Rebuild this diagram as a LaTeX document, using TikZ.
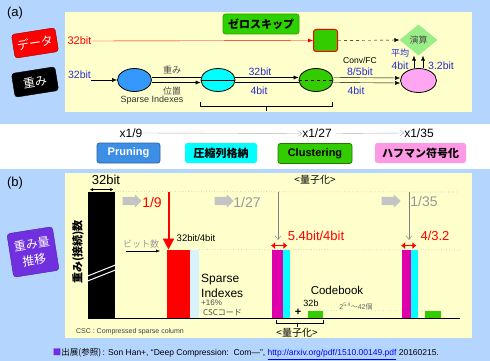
\documentclass[tikz,border=0pt]{standalone}
\usepackage{fontspec}
\setmainfont{Liberation Sans}
\newfontfamily\jp{Noto Sans CJK JP}
\usetikzlibrary{shapes.geometric,shapes.arrows,arrows.meta,calc}
\definecolor{bgblue}{HTML}{B4D6FE}
\definecolor{pane}{HTML}{FFFFCC}
\definecolor{txtblue}{HTML}{2B2BD0}
\definecolor{btnblue}{HTML}{3D8FE6}
\definecolor{btngreen}{HTML}{33CC00}
\definecolor{btnpink}{HTML}{FF99E6}
\definecolor{btncyan}{HTML}{00FFFF}
\definecolor{elblue}{HTML}{3399FF}
\definecolor{elpink}{HTML}{FFA6F2}
\definecolor{dmgreen}{HTML}{99EE88}
\definecolor{magbar}{HTML}{DD00AA}
\definecolor{purp}{HTML}{7030E0}
\definecolor{grtxt}{HTML}{999999}
\definecolor{blkgray}{HTML}{C4C4C4}
\newcommand{\fs}[1]{\fontsize{#1}{#1}\selectfont}
\begin{document}
\begin{tikzpicture}[x=1pt,y=-1pt,
  lbl/.style={inner sep=0pt},
  bt/.style={lbl,text=txtblue,font=\fs{10.5}},
  ell/.style={ellipse,draw=black,line width=0.8pt,minimum width=34pt,minimum height=23pt,inner sep=0pt},
  arr/.style={-{Latex[length=5pt,width=4pt]}},
  garr/.style={draw=gray!60,-{Straight Barb[length=4pt,width=6pt]}},
  btn/.style={rounded corners=2.5pt,minimum height=20pt,inner sep=0pt,font=\fs{11}\bfseries,line width=0.8pt},
  tilt/.style={rounded corners=3pt,rotate=9,inner sep=0pt,text=white,font=\jp\fs{12}},
  bar/.style={anchor=south west,inner sep=0pt,minimum height=68pt},
  blk/.style={single arrow,fill=blkgray,minimum height=19pt,minimum width=13pt,single arrow head extend=2.5pt,inner xsep=0pt,inner ysep=4pt},
  dotl/.style={draw=gray!55,dotted,line width=0.6pt}
]
\useasboundingbox (0,0) rectangle (490,361);
\fill[bgblue] (0,0) rectangle (490,361);
\fill[white] (0,124) rectangle (490,169);
\fill[pane] (65,12) rectangle (472,112);
\fill[pane] (65,173) rectangle (472,338);

% ---------- (a) ----------
\node[lbl,font=\fs{13}] (la) at (15,13) {(a)};
\node[tilt,fill=red,draw=red!60!black,minimum width=44pt,minimum height=24pt] (bdata) at (35,43) {データ};
\node[tilt,fill=black,draw=black,minimum width=44pt,minimum height=24pt] (bw) at (35,82) {重み};

\node[btn,fill=btngreen!90!green,draw=btngreen!80!black,minimum width=76pt,font=\jp\fs{11}\bfseries] (zs) at (261,24) {ゼロスキップ};
\node[lbl,text=red,font=\fs{11}] (d32) at (79.5,41) {32bit};
\node[draw=red,line width=1pt,fill=btngreen,rounded corners=2.5pt,minimum width=24pt,minimum height=22pt,inner sep=0pt] (gsq) at (325.5,40.5) {};
\node[diamond,fill=dmgreen,minimum width=38pt,minimum height=31pt,inner sep=0pt,font=\jp\fs{9},text=black!70] (dm) at (418.5,40) {演算};
\draw[red,arr] (d32.east) -- (gsq.west);
\draw[dashed,arr] (gsq.east) -- (dm.west);

\node[bt] (w32) at (79.5,75) {32bit};
\node[ell,fill=elblue] (be) at (134.5,80) {};
\node[ell,fill=btncyan] (ce) at (218,80) {};
\node[ell,fill=btngreen] (ge) at (316,80) {};
\node[ell,fill=elpink,minimum width=36pt,minimum height=24pt] (pe) at (418.5,80.5) {};
\draw (ce.west) -- (ce.east);
\draw[dashed] (ge.west) -- (ge.east);
\draw[arr] (w32.south east |- be.west) -- (be.west);
\draw ([yshift=2.5pt]be.east) -- ([yshift=2.5pt]ce.west);
\draw[arr] ([yshift=-2.5pt]be.east) -- ([yshift=-2.5pt]ce.west);
\draw[arr] ([yshift=2.5pt]ce.east) -- ([yshift=2.5pt]ge.west);
\draw ([yshift=-2.5pt]ce.east) -- ([yshift=-2.5pt]ge.west);
\draw[arr] ([yshift=2.5pt]ge.east) -- ([yshift=2.5pt]pe.west);
\draw[arr] ([yshift=-2.5pt]ge.east) -- ([yshift=-2.5pt]pe.west);
\draw[arr] ([xshift=-4.5pt]pe.north) -- ([xshift=-4.5pt]dm.south);
\draw[arr] ([xshift=4.5pt]pe.north) -- ([xshift=4.5pt]dm.south);

\node[lbl,font=\jp\fs{9},text=black!70] (lw) at (172,70) {重み};
\node[lbl,font=\jp\fs{9},text=black!70] (lp) at (172,91) {位置};
\node[lbl,font=\fs{9},text=black!80] (lsi) at (152,100) {Sparse Indexes};
\node[bt] (l32b) at (260,72) {32bit};
\node[bt] (l4b) at (259,91) {4bit};
\node[lbl,font=\fs{8.5}] (lcf) at (360,60) {Conv/FC};
\node[bt] (l85) at (360,72) {8/5bit};
\node[bt] (l4c) at (356,91) {4bit};
\node[lbl,font=\jp\fs{9},text=txtblue] (lav) at (400,53) {平均};
\node[bt] (l4d) at (400,66) {4bit};
\node[bt] (l32c) at (441,66) {3.2bit};
\draw (200,102) -- (200,106.5) -- (332,106.5) -- (332,102);
\draw (266,106.5) -- (266,111);

% ---------- middle band ----------
\node[lbl,font=\fs{12}] (x19) at (131,133) {x1/9};
\node[lbl,font=\fs{12}] (x127) at (317,133.5) {x1/27};
\node[lbl,font=\fs{12}] (x135) at (419,133) {x1/35};
\draw[garr] (x19.east) -- (x127.west);
\draw[garr] ([xshift=4pt]x127.east) -- (x135.west);
\node[btn,fill=btnblue,draw=btnblue!70!black,text=white,minimum width=63pt] (bpr) at (128.5,153) {Pruning};
\node[btn,fill=btncyan,draw=none,minimum width=72pt,font=\jp\fs{11}\bfseries] (bcs) at (221,153) {圧縮列格納};
\node[btn,fill=btngreen,draw=btngreen!60!black,minimum width=74pt] (bcl) at (315,153.5) {Clustering};
\node[btn,fill=btnpink,draw=none,minimum width=91pt,font=\jp\fs{11}\bfseries] (bhf) at (420.5,153) {ハフマン符号化};

% ---------- (b) ----------
\node[lbl,font=\fs{13}] (lb) at (15,183) {(b)};
\node[tilt,fill=purp,draw=purp!70!black,minimum width=46pt,minimum height=44pt,align=center,font=\jp\fontsize{12}{16}\selectfont\itshape] (bpu) at (33,252) {重み量\\推移};
\node[lbl,rotate=90,font=\jp\fs{11}\bfseries] (vl) at (78,252) {重み(接続)数};

\node[bar,fill=black,minimum width=27pt,minimum height=126pt] (kb) at (88,318) {};
\draw[white,line width=1pt] (85,277) -- (118,264);
\draw[white,line width=1pt] (85,282) -- (118,269);
\node[lbl,font=\fs{13}] (l32) at (106,180) {32bit};
\draw[{Latex[length=3pt,width=3pt]}-{Latex[length=3pt,width=3pt]}] ([xshift=2pt,yshift=2pt]kb.north west) -- ([xshift=-2pt,yshift=2pt]kb.north east);
\draw[dotl] (kb.north east) -- (457,192);

\node[blk] (a1) at (130,201) {};
\node[blk] (a2) at (222,201) {};
\node[blk] (a3) at (389,201) {};
\node[lbl,text=red,font=\fs{14}] (r19) at (152,202) {1/9};
\node[lbl,text=grtxt,font=\fs{14}] (r127) at (247,202) {1/27};
\node[lbl,text=grtxt,font=\fs{14}] (r135) at (424,201) {1/35};

\node[bar,fill=red,minimum width=23pt] (rb) at (167,318) {};
\node[bar,fill=cyan!15,minimum width=9pt] (lcb) at (190,318) {};
\coordinate (rtop) at (168.5,192);
\draw[red,line width=2pt,-{Triangle[length=11pt,width=11pt]}] (rtop) -- ([xshift=1.5pt]rb.north west);
\draw[dotl] (lcb.north east) -- (460,250);
\node[lbl,font=\fs{9.5}] (l324) at (196,238) {32bit/4bit};
\node[lbl,font=\jp\fs{9},text=grtxt] (lbn) at (141,244) {ビット数};
\coordinate (bna) at (126,251);
\coordinate (bnb) at (160,251);
\draw[-{Latex[length=4pt,width=3pt]}] (bna) -- (bnb);
\node[lbl,font=\fs{12},anchor=west] (lsp) at (201,280) {Sparse};
\node[lbl,font=\fs{12},anchor=west] (lix) at (201,293) {Indexes};
\node[lbl,font=\fs{8},text=black!70,anchor=west] (l16) at (201,303) {+16\%};
\node[lbl,font=\jp\fs{8},text=black!70,anchor=west] (lcsc) at (203,313) {CSCコード};
\node[lbl,font=\fs{7},text=black!75] (lcscf) at (130,332) {CSC : Compressed sparse column};

\node[lbl,font=\jp\fs{10}] (lq1) at (315,180) {<量子化>};
\node[bar,fill=magbar,minimum width=11pt] (mb1) at (272,318) {};
\node[bar,fill=btncyan,minimum width=7pt] (cb1) at (283,318) {};
\coordinate (v1t) at (278,192);
\coordinate (v1b) at (278,240);
\draw[gray,-{Straight Barb[length=4pt,width=6pt]}] (v1t) -- (v1b);
\draw[red,line width=1.5pt,{Latex[length=4pt,width=7pt]}-{Latex[length=4pt,width=7pt]}] ([xshift=-1pt,yshift=4pt]mb1.north west) -- ([xshift=-3pt,yshift=4pt]cb1.north east);
\node[lbl,text=red,font=\fs{13}] (l54) at (316,236) {5.4bit/4bit};
\node[lbl,font=\fs{11.5}] (lcb) at (337,290) {Codebook};
\node[lbl,font=\fs{11}\bfseries] (lplus) at (298,312) {+};
\node[lbl,font=\fs{9}] (l32b2) at (311,303) {32b};
\node[bar,fill=btngreen,minimum width=15pt,minimum height=7pt] (gb1) at (308,318) {};
\draw[dotl] (gb1.north east) -- (425,311);
\node[lbl,font=\fs{7},text=black!60,fill=pane,inner sep=1pt] (l254) at (356,307) {2\textsuperscript{5.4}{\jp 〜}42{\jp 個}};
\draw (276,320) -- (276,323.5) -- (323,323.5) -- (323,320);
\draw (297,323.5) -- (297,327);
\node[lbl,font=\jp\fs{10}] (lq2) at (297,333) {<量子化>};

\node[bar,fill=magbar,minimum width=9pt] (mb2) at (402,318) {};
\node[bar,fill=btncyan,minimum width=7pt] (cb2) at (411,318) {};
\coordinate (v2t) at (409,192);
\coordinate (v2b) at (409,240);
\draw[gray,-{Straight Barb[length=4pt,width=6pt]}] (v2t) -- (v2b);
\draw[red,line width=1.5pt,{Latex[length=4pt,width=7pt]}-{Latex[length=4pt,width=7pt]}] ([xshift=-1pt,yshift=4pt]mb2.north west) -- ([xshift=-2pt,yshift=4pt]cb2.north east);
\node[lbl,text=red,font=\fs{13}] (l432) at (435,236) {4/3.2};
\node[bar,fill=btngreen,minimum width=16pt,minimum height=7pt] (gb2) at (425,318) {};

\draw[line width=0.8pt] (kb.south west) -- (460,318);

% ---------- footer ----------
\node[lbl,font=\fs{8.5}] (foot) at (246,354) {{\jp\color{purp}■}{\jp 出展(参照)}\,: Son Han+, “Deep Compression:\ \ Com—”, \textcolor{blue}{\underline{http://arxiv.org/pdf/1510.00149.pdf}} 20160215.};
\end{tikzpicture}
\end{document}
